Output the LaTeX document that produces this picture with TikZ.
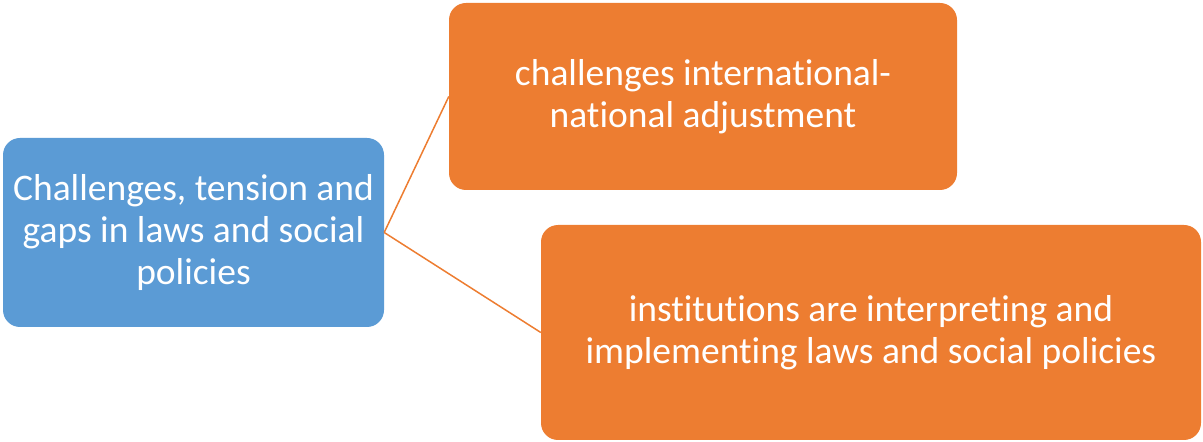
\documentclass[tikz,border=0pt]{standalone}
\usepackage{fontspec}
\setmainfont{Carlito}[Ligatures=NoCommon]
\definecolor{offblue}{HTML}{5B9BD5}
\definecolor{offorange}{HTML}{ED7D31}
\begin{document}
\begin{tikzpicture}[x=1pt,y=1pt,
  box/.style={rounded corners=17pt, inner sep=0pt, text=white, align=center,
    font=\fontsize{37.5}{42}\selectfont},
  bluebox/.style={box, fill=offblue, minimum width=381pt, minimum height=189pt},
  orangebox/.style={box, fill=offorange},
  link/.style={draw=offorange, line width=1.5pt}]
\useasboundingbox (0,0) rectangle (1203,442);
\node[bluebox] (root) at (193.5,209.5) {Challenges, tension and\\gaps in laws and social\\policies};
\node[orangebox, minimum width=508pt, minimum height=187pt] (a) at (703,345.5) {challenges international-\\national adjustment};
\node[orangebox, minimum width=660pt, minimum height=215pt] (b) at (871,109.5) {institutions are interpreting and\\implementing laws and social policies};
\draw[link] (root.east) -- (a.west);
\draw[link] (root.east) -- (b.west);
\end{tikzpicture}
\end{document}
